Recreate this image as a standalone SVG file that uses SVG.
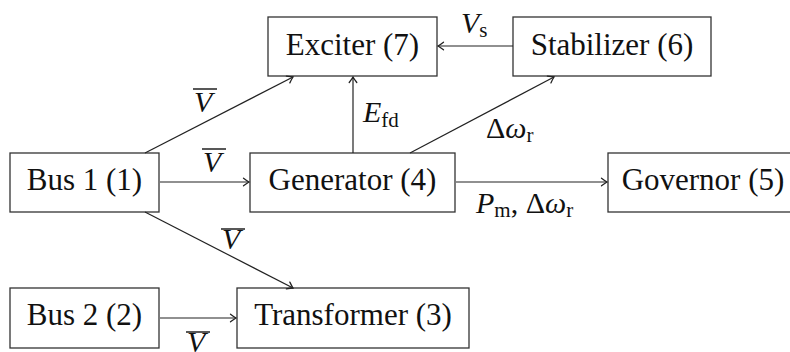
<svg xmlns="http://www.w3.org/2000/svg" width="790" height="352" viewBox="0 0 790 352">
<defs>
<style>
.box{fill:#fff;stroke:#333;stroke-width:1.3}
.lbl{font-size:31px;fill:#111;text-anchor:middle}
.m{font-size:30px;fill:#111}
.it{font-style:italic}
.sub{font-size:21px;font-style:normal}
.edge{stroke:#222;stroke-width:1.2;fill:none;marker-end:url(#ah)}
.bar{stroke:#111;stroke-width:1.4}
</style>
<marker id="ah" markerUnits="userSpaceOnUse" markerWidth="12" markerHeight="12" viewBox="-7 -6 8 12" refX="0" refY="0" orient="auto">
<path d="M-5.5,-3.8 Q-1.8,-1 0,0 Q-1.8,1 -5.5,3.8" fill="none" stroke="#222" stroke-width="1.3" stroke-linecap="round"/>
</marker>
</defs>
<rect width="790" height="352" fill="#fff"/>
<g font-family="'Liberation Serif', serif">
<g id="exciter"><rect class="box" x="268" y="17" width="169" height="59"/><text class="lbl" x="352.5" y="55">Exciter (7)</text></g>
<g id="stabilizer"><rect class="box" x="513" y="17" width="198" height="59"/><text class="lbl" x="612" y="55">Stabilizer (6)</text></g>
<g id="bus1"><rect class="box" x="10" y="153" width="149" height="59"/><text class="lbl" x="84.5" y="190">Bus 1 (1)</text></g>
<g id="generator"><rect class="box" x="250" y="153" width="205" height="59"/><text class="lbl" x="352.5" y="190">Generator (4)</text></g>
<g id="governor"><rect class="box" x="608" y="153" width="192" height="59"/><text class="lbl" x="703" y="190">Governor (5)</text></g>
<g id="bus2"><rect class="box" x="10" y="288" width="149" height="60"/><text class="lbl" x="84.5" y="325">Bus 2 (2)</text></g>
<g id="transformer"><rect class="box" x="237" y="288" width="232" height="60"/><text class="lbl" x="353" y="325">Transformer (3)</text></g>
<g id="connectors">
<line class="edge" x1="145" y1="153" x2="293" y2="77"/>
<line class="edge" x1="353" y1="153" x2="353" y2="77"/>
<line class="edge" x1="513" y1="46" x2="438" y2="46"/>
<line class="edge" x1="410" y1="153" x2="554" y2="77"/>
<line class="edge" x1="160" y1="182" x2="249" y2="182"/>
<line class="edge" x1="456" y1="182" x2="607" y2="182"/>
<line class="edge" x1="145" y1="212" x2="293" y2="288"/>
<line class="edge" x1="160" y1="318" x2="236" y2="318"/>
</g>
<g id="labels">
<text class="m it" x="194" y="112">V</text><line class="bar" x1="193" y1="89" x2="217" y2="89"/>
<text class="m it" x="203" y="172">V</text><line class="bar" x1="202" y1="149" x2="226" y2="149"/>
<text class="m it" x="222" y="249">V</text><line class="bar" x1="221" y1="229" x2="245" y2="229"/>
<text class="m it" x="187" y="352">V</text><line class="bar" x1="186" y1="332" x2="210" y2="332"/>
<text class="m" x="363" y="122"><tspan class="it">E</tspan><tspan class="sub" dy="5">fd</tspan></text>
<text class="m" x="461" y="33"><tspan class="it">V</tspan><tspan class="sub" dy="4">s</tspan></text>
<text class="m" x="486" y="138">Δ<tspan class="it">ω</tspan><tspan class="sub" dy="4">r</tspan></text>
<text class="m" x="476" y="213"><tspan class="it">P</tspan><tspan class="sub" dy="4">m</tspan><tspan dy="-4">, Δ</tspan><tspan class="it">ω</tspan><tspan class="sub" dy="4">r</tspan></text>
</g>
</g>
</svg>
